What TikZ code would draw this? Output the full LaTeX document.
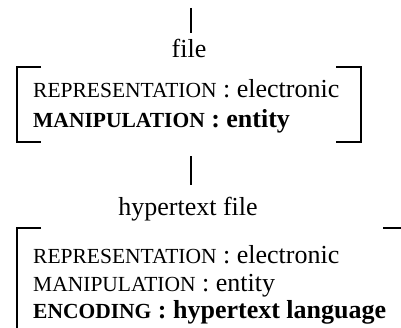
\documentclass[tikz,border=0pt]{standalone}
\usepackage{fontspec}
\setmainfont{Liberation Serif}
\usetikzlibrary{positioning}
\newcommand{\featname}[1]{{\fontsize{21.5}{24}\selectfont #1}}
\tikzset{
  typelabel/.style={font=\fontsize{26}{30}\selectfont, inner sep=0pt, anchor=base},
  featline/.style={font=\fontsize{26}{30}\selectfont, inner sep=0pt, anchor=base west},
  bracket/.style={line width=1.5pt},
  stem/.style={line width=1.5pt},
}
\begin{document}
\begin{tikzpicture}[x=1pt,y=1pt]
  \useasboundingbox (0,0) rectangle (401,327);
  % Type labels
  \node[typelabel] (file) at (189,269) {file};
  \node[typelabel] (hyper) at (188,112) {hypertext file};
  % Features of file
  \node[featline] (frep) at (33,229) {\featname{REPRESENTATION} : electronic};
  \node[featline] (fman) at (33,200) {\bfseries\featname{MANIPULATION} : entity};
  % Features of hypertext file
  \node[featline] (hrep) at (33,64) {\featname{REPRESENTATION} : electronic};
  \node[featline] (hman) at (33,36) {\featname{MANIPULATION} : entity};
  \node[featline] (henc) at (33,9) {\bfseries\featname{ENCODING} : hypertext language};
  % Bracket corners
  \coordinate (ftl) at (17,260);
  \coordinate (fbl) at (17,185);
  \coordinate (ftr) at (361,260);
  \coordinate (fbr) at (361,185);
  \coordinate (htl) at (17,99);
  \coordinate (hbl) at (17,-2);
  \coordinate (htr) at (403,99);
  \coordinate (top) at (191,319);
  % Brackets
  \draw[bracket] ([xshift=24]ftl) -- (ftl) -- (fbl) -- ([xshift=24]fbl);
  \draw[bracket] ([xshift=-25]ftr) -- (ftr) -- (fbr) -- ([xshift=-25]fbr);
  \draw[bracket] ([xshift=24]htl) -- (htl) -- (hbl);
  \draw[bracket] ([xshift=-20]htr) -- (htr);
  % Stems
  \draw[stem, shorten >=6pt] (top) -- (top|-file.north);
  \draw[stem, shorten <=14pt, shorten >=11pt] (top|-fbl) -- (top|-hyper.north);
\end{tikzpicture}
\end{document}
